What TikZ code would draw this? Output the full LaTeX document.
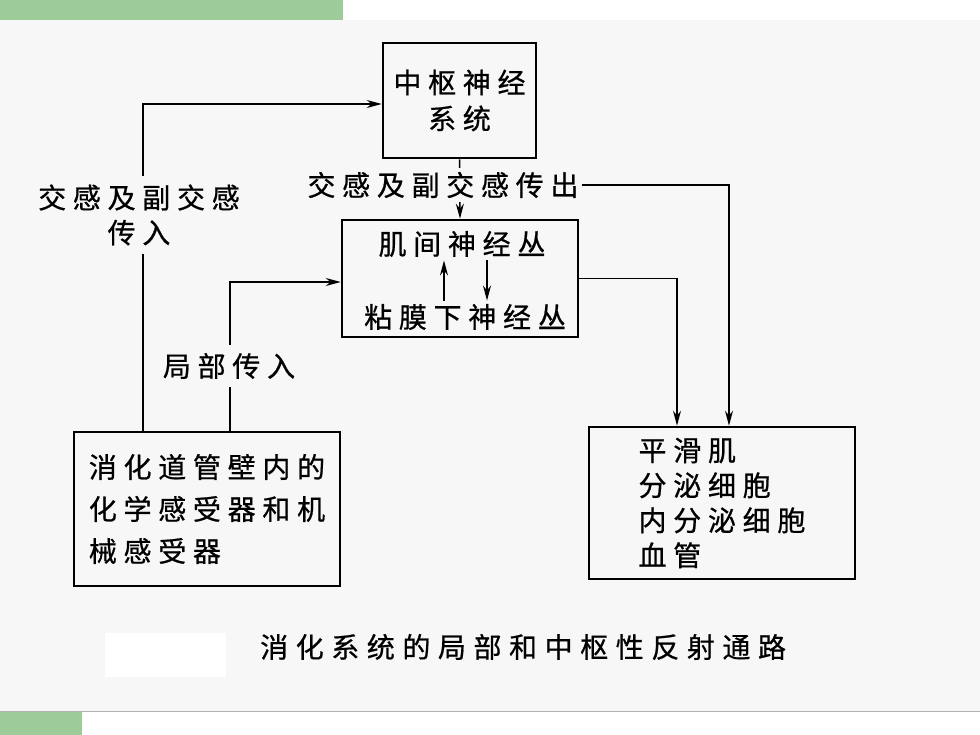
\documentclass[tikz,border=0pt]{standalone}
\usepackage{fontspec}
\newfontfamily\cjk[LetterSpace=24,FakeBold=0.7]{Noto Sans CJK SC}
\usetikzlibrary{arrows.meta,positioning}
\definecolor{slidegreen}{HTML}{9DCC98}
\definecolor{pagegray}{HTML}{F7F7F7}
\tikzset{
  >={Stealth[length=15pt,width=8pt]},
  box/.style={draw,line width=2.6pt,inner sep=0pt,align=center},
  lbl/.style={fill=pagegray,inner sep=3pt,align=center},
  wire/.style={line width=1.5pt},
}

\begin{document}
\begin{tikzpicture}[x=1pt,y=-1pt,font=\cjk\fontsize{28}{36}\selectfont]
      \useasboundingbox (0,0) rectangle (980,735);
      % page
      \fill[white] (0,0) rectangle (980,735);
      \fill[pagegray] (0,20) rectangle (980,711);
      \draw[black!30,line width=1pt] (0,711.5) -- (980,711.5);
      \fill[slidegreen] (0,0) rectangle (343,20);
      \fill[slidegreen] (0,712) rectangle (82,735);
      \fill[white] (105,633) rectangle (226,677);
      % boxes
      \node[box,minimum width=153,minimum height=115] (cns) at (459.5,100.5) {中枢神经\\系统};
      \node[box,minimum width=236,minimum height=117] (plexus) at (460,278.5) {};
      \node (myen) at (462,244) {肌间神经丛};
      \node (submuc) at (465,317) {粘膜下神经丛};
      \node[box,align=left,minimum width=266,minimum height=154,
            font=\cjk\fontsize{28}{42}\selectfont] (receptor) at (207,509)
            {消化道管壁内的\\化学感受器和机\\械感受器};
      \node[box,align=left,minimum width=266,minimum height=152,
            font=\cjk\fontsize{28}{35}\selectfont] (target) at (722,503)
            {平滑肌\\分泌细胞\\内分泌细胞\\血管};
      % central afferent
      \coordinate (up) at (143,104);
      \draw[wire,->] (receptor.north -| up) -- (up) -- (up -| cns.west);
      \node[lbl,inner ysep=8pt,font=\cjk\fontsize{28}{35}\selectfont] (symin) at (139,215) {交感及副交感\\传入};
      % central efferent
      \draw[wire,->] (cns.south) -- (plexus.north);
      \node[lbl,inner ysep=4pt] (symout) at (443,185) {交感及副交感传出};
      \coordinate (out) at (729,185);
      \draw[wire,->] (symout.east) -- (out) -- (out |- target.north);
      % local efferent
      \coordinate (loc) at (677,278.5);
      \draw[wire,->] (plexus.east) -- (loc) -- (loc |- target.north);
      % local afferent
      \coordinate (lin) at (230,282);
      \draw[wire,->] (receptor.north -| lin) -- (lin) -- (lin -| plexus.west);
      \node[lbl,inner ysep=8pt] (locin) at (229,366) {局部传入};
      % between the plexuses
      \draw[wire,->] ([xshift=-21]submuc.north) -- ([xshift=-21]submuc.north |- myen.south);
      \draw[wire,->] ([xshift=22]submuc.north |- myen.south) -- ([xshift=22]submuc.north);
      % caption
      \node[anchor=west,inner sep=0pt,font=\cjk\fontsize{28}{36}\selectfont\addfontfeature{LetterSpace=27}] (caption) at (260,647) {消化系统的局部和中枢性反射通路};
\end{tikzpicture}
\end{document}
